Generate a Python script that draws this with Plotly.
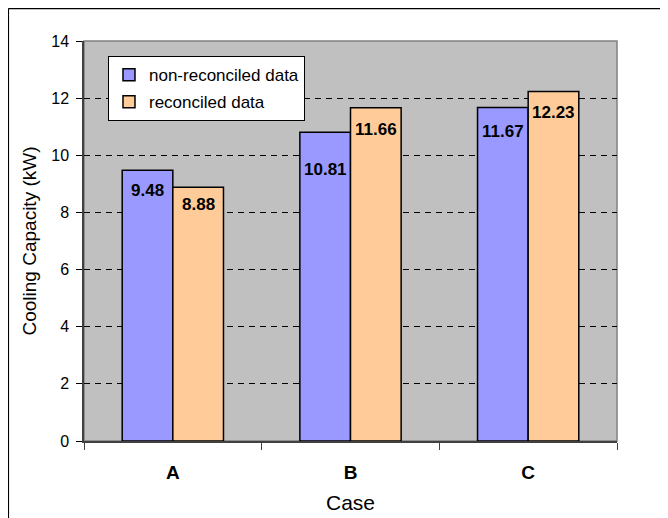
import plotly.graph_objects as go

cases = ["A", "B", "C"]
series_names = ["non-reconciled data", "reconciled data"]
non_reconciled = [9.48, 10.81, 11.67]
reconciled = [8.88, 11.66, 12.23]
y_ticks = [0, 2, 4, 6, 8, 10, 12, 14]

# label offsets below bar tops (px) - styling only
label_drop_nonrec = [20, 37, 24]
label_drop_rec = [17, 22, 21]

colors = ["#9999FF", "#FFCC99"]
FONT = "Liberation Sans, Arial, sans-serif"

fig = go.Figure()
for name, vals, col in zip(series_names, [non_reconciled, reconciled], colors):
    fig.add_trace(go.Bar(
        x=cases, y=vals, name=name, legendgroup=name,
        marker=dict(color=col, line=dict(color="#000000", width=1.5)),
    ))

bar_half = 25.3
annotations = []
for vals, drops, sx in [(non_reconciled, label_drop_nonrec, -bar_half),
                        (reconciled, label_drop_rec, bar_half)]:
    for c, v, d in zip(cases, vals, drops):
        annotations.append(dict(
            x=c, y=v, xref="x", yref="y", text=f"<b>{v:.2f}</b>",
            showarrow=False, xshift=sx, yshift=-d, yanchor="middle",
            font=dict(family=FONT, size=17, color="#000000"),
        ))

fig.update_layout(
    width=660, height=510,
    margin=dict(l=76, r=51, t=33, b=77, autoexpand=False),
    paper_bgcolor="#FFFFFF", plot_bgcolor="#C0C0C0",
    barmode="group", bargap=0.43, bargroupgap=0,
    font=dict(family=FONT, size=16, color="#000000"),
    showlegend=True,
    legend=dict(
        x=0.045, y=0.962, xanchor="left", yanchor="top",
        bgcolor="#FFFFFF", bordercolor="#000000", borderwidth=1,
        font=dict(family=FONT, size=17, color="#000000"),
        traceorder="grouped", tracegroupgap=2,
    ),
    annotations=annotations,
    shapes=[
        # plot area frame
        dict(type="rect", xref="x domain", yref="y domain", x0=0, x1=1, y0=0, y1=1,
             line=dict(color="#808080", width=1.5), layer="below"),
        # outer chart border (top and left visible)
        dict(type="line", xref="paper", yref="paper", x0=-0.142, x1=1.2, y0=1.0813, y1=1.0813,
             line=dict(color="#000000", width=1.5)),
        dict(type="line", xref="paper", yref="paper", x0=-0.142, x1=-0.142, y0=-0.3, y1=1.0813,
             line=dict(color="#000000", width=1.5)),
    ],
)

fig.update_xaxes(
    type="category", tickson="boundaries", ticks="outside", ticklen=7,
    tickcolor="#404040", tickwidth=1,
    showline=True, linecolor="#404040", linewidth=1.5,
    showgrid=False,
    tickfont=dict(family=FONT, size=19, color="#000000", weight="bold"),
    ticklabelstandoff=13,
    title=dict(text="Case", font=dict(family=FONT, size=21, color="#000000"), standoff=14),
)

fig.update_yaxes(
    range=[0, 14], tickvals=y_ticks, ticks="outside", ticklen=6,
    tickcolor="#000000", tickwidth=1,
    showline=True, linecolor="#404040", linewidth=1.5,
    showgrid=True, gridcolor="#000000", gridwidth=1, griddash="6px,5px",
    zeroline=False,
    tickfont=dict(family=FONT, size=16, color="#000000"),
    ticklabelstandoff=4,
    title=dict(text="Cooling Capacity (kW)", font=dict(family=FONT, size=19, color="#000000"), standoff=10),
)

fig.write_html("out.html")
